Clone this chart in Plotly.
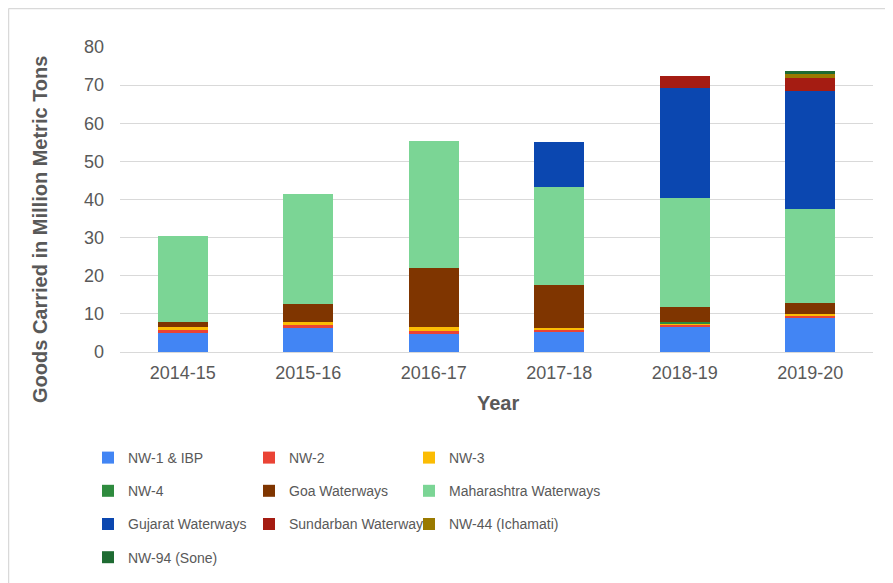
import plotly.graph_objects as go

years = ["2014-15", "2015-16", "2016-17", "2017-18", "2018-19", "2019-20"]

nw1_ibp = [5.0, 6.4, 4.8, 5.3, 6.8, 9.1]
nw2 = [0.7, 0.6, 0.6, 0.6, 0.4, 0.4]
nw3 = [0.9, 1.0, 1.1, 0.5, 0.3, 0.5]
nw4 = [0.0, 0.0, 0.0, 0.0, 0.3, 0.0]
goa = [1.2, 4.6, 15.6, 11.1, 3.9, 2.9]
maharashtra = [22.6, 28.9, 33.3, 25.9, 28.6, 24.5]
gujarat = [0.0, 0.0, 0.0, 11.6, 28.9, 31.1]
sundarban = [0.0, 0.0, 0.0, 0.0, 3.2, 3.5]
nw44 = [0.0, 0.0, 0.0, 0.0, 0.0, 1.0]
nw94 = [0.0, 0.0, 0.0, 0.0, 0.0, 0.7]

# legend is laid out as three columns (left, middle, right)
series = [
    ("NW-1 & IBP", nw1_ibp, "#4285F4", "legend"),
    ("NW-2", nw2, "#EA4335", "legend2"),
    ("NW-3", nw3, "#FBBC04", "legend3"),
    ("NW-4", nw4, "#2E8B3E", "legend"),
    ("Goa Waterways", goa, "#7F3500", "legend2"),
    ("Maharashtra Waterways", maharashtra, "#7BD595", "legend3"),
    ("Gujarat Waterways", gujarat, "#0B47B0", "legend"),
    ("Sundarban Waterways", sundarban, "#A51C12", "legend2"),
    ("NW-44 (Ichamati)", nw44, "#9A7A00", "legend3"),
    ("NW-94 (Sone)", nw94, "#1E6B32", "legend"),
]

# the page body adds an 8px margin, so work in figure pixels = page - 8
OFF = 8
W, H = 893 - OFF, 583 - OFF
L, R, T, B = 120 - OFF, 873 - OFF, 47 - OFF, 352 - OFF
grey = "#595959"
font_family = "Liberation Sans, Arial, sans-serif"

fig = go.Figure()
for name, vals, color, leg in series:
    fig.add_trace(go.Bar(
        x=years, y=vals, name=name, marker_color=color,
        marker_line_width=0, legend=leg, legendgroup=name,
    ))

legend_style = dict(
    orientation="v", xref="container", yref="container",
    xanchor="left", yanchor="top",
    traceorder="grouped", tracegroupgap=12,
    font=dict(family=font_family, size=14, color=grey),
    bgcolor="rgba(0,0,0,0)", itemclick=False,
)
legend_top = 1 - (458 - OFF - 16) / H
col_x = [80, 241, 401]

fig.update_layout(
    width=W, height=H,
    barmode="stack", bargap=0.6,
    plot_bgcolor="white", paper_bgcolor="white",
    margin=dict(l=L, r=W - R, t=T, b=H - B, autoexpand=False),
    font=dict(family=font_family, size=18, color=grey),
    legend=dict(legend_style, x=col_x[0] / W, y=legend_top),
    legend2=dict(legend_style, x=col_x[1] / W, y=legend_top),
    legend3=dict(legend_style, x=col_x[2] / W, y=legend_top),
)
fig.update_yaxes(
    range=[0, 80], dtick=10, gridcolor="#D9D9D9", gridwidth=1,
    zeroline=True, zerolinecolor="#D9D9D9", zerolinewidth=1,
    showline=False, ticklabelstandoff=15,
    tickfont=dict(size=18, color=grey),
)
fig.update_xaxes(
    showline=False, showgrid=False, ticklabelstandoff=8,
    tickfont=dict(size=18, color=grey),
)

pw, ph = R - L, B - T
fig.add_annotation(
    text="<b>Goods Carried in Million Metric Tons</b>", textangle=-90,
    xref="paper", yref="paper", x=(40 - OFF - L) / pw, y=(B - (230 - OFF)) / ph,
    showarrow=False, font=dict(size=20, color=grey),
    xanchor="center", yanchor="middle",
)
fig.add_annotation(
    text="<b>Year</b>", xref="paper", yref="paper",
    x=(498 - OFF - L) / pw, y=(B - (403 - OFF)) / ph,
    showarrow=False, font=dict(size=20, color=grey),
    xanchor="center", yanchor="middle",
)

# thin frame on the top and left edges
fig.add_shape(
    type="line", xref="paper", yref="paper",
    x0=(0.5 - L) / pw, x1=(W - L) / pw, y0=(B - 0.5) / ph, y1=(B - 0.5) / ph,
    line=dict(color="#D9D9D9", width=1.5),
)
fig.add_shape(
    type="line", xref="paper", yref="paper",
    x0=(0.5 - L) / pw, x1=(0.5 - L) / pw, y0=(B - 0.5) / ph, y1=(B - H) / ph,
    line=dict(color="#D9D9D9", width=1.5),
)

fig.write_html("out.html")
